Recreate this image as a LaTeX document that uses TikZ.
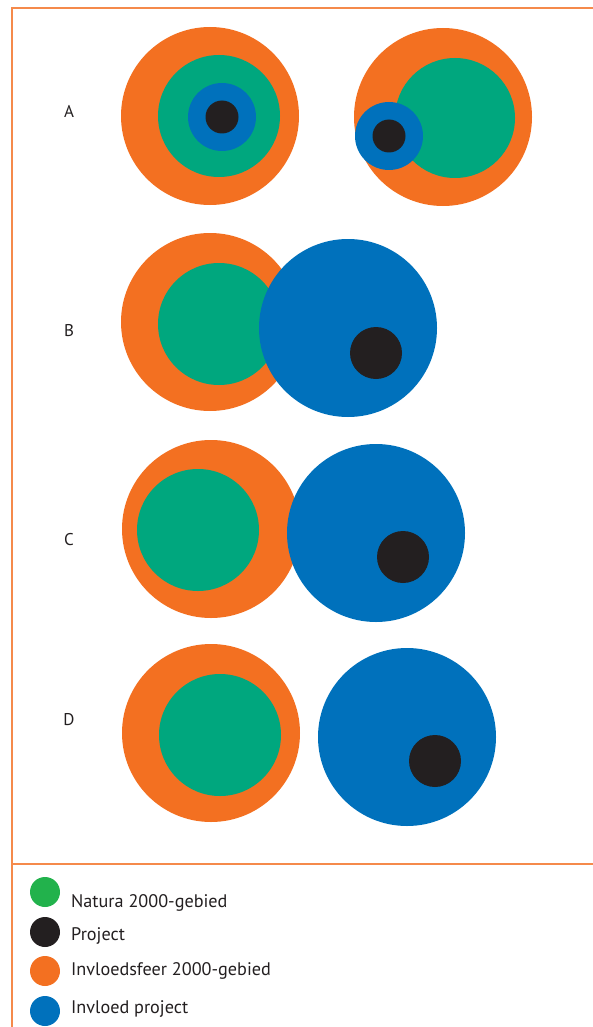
\documentclass[tikz,border=0pt]{standalone}
\usepackage{fontspec}
\setmainfont{PT Sans}
\usetikzlibrary{positioning}

\definecolor{sfeerorange}{HTML}{F37021}
\definecolor{framorange}{HTML}{F58A4B}
\definecolor{naturagreen}{HTML}{00A77E}
\definecolor{legendgreen}{HTML}{22B24C}
\definecolor{invloedblue}{HTML}{0071BC}
\definecolor{projectblack}{HTML}{231F20}

\begin{document}
\begin{tikzpicture}[x=1pt, y=-1pt,
    sfeer/.style={fill=sfeerorange},
    natura/.style={fill=naturagreen},
    invloed/.style={fill=invloedblue},
    project/.style={fill=projectblack},
    frame/.style={draw=framorange, line width=1.8pt},
    letter/.style={font=\fontsize{17}{20}\selectfont, text=projectblack},
    legdot/.style={circle, minimum width=30pt, minimum height=29pt, inner sep=0pt},
    legtext/.style={font=\fontsize{18.2}{21}\selectfont, text=projectblack, anchor=base west, inner sep=0pt}
]
    \useasboundingbox (0,0) rectangle (593,1027);

    % frame
    \coordinate (tl) at (12,8);
    \coordinate (tr) at (593,8);
    \coordinate (bl) at (12,1027);
    \coordinate (ml) at (12,864);
    \coordinate (mr) at (593,864);
    \draw[frame] (tr) -- (tl) -- (bl);
    \draw[frame] (ml) -- (mr);

    % row A
    \node[letter] (la) at (69,111) {A};
    \fill[sfeer] (210,116) circle[radius=89pt];
    \fill[natura] (219,116) circle[radius=61pt];
    \fill[invloed] (222,117) circle[radius=34pt];
    \fill[project] (222,117) circle[radius=16.5pt];

    \fill[sfeer] (443,117) circle[radius=89pt];
    \fill[natura] (455,118) circle[radius=60pt];
    \fill[invloed] (389,136) circle[radius=34pt];
    \fill[project] (389,136) circle[radius=16.5pt];

    % row B
    \node[letter] (lb) at (69,331) {B};
    \fill[sfeer] (210,322) circle[radius=89pt];
    \fill[natura] (219,324) circle[radius=61pt];
    \fill[invloed] (348,328) circle[radius=89pt];
    \fill[project] (376,353) circle[radius=26pt];

    % row C
    \node[letter] (lc) at (69,540) {C};
    \fill[sfeer] (211,529) circle[radius=89pt];
    \fill[natura] (198,530) circle[radius=61pt];
    \fill[invloed] (376,533) circle[radius=89pt];
    \fill[project] (403,557) circle[radius=26pt];

    % row D
    \node[letter] (ld) at (69,720) {D};
    \fill[sfeer] (211,733) circle[radius=89pt];
    \fill[natura] (220,735) circle[radius=61pt];
    \fill[invloed] (407,737) circle[radius=89pt];
    \fill[project] (435,761) circle[radius=26pt];

    % legend
    \node[legdot, fill=legendgreen] (dotnat) at (45,892) {};
    \node[legdot, fill=projectblack] (dotproj) at (45,932) {};
    \node[legdot, fill=sfeerorange] (dotsfeer) at (45,971) {};
    \node[legdot, fill=invloedblue] (dotinv) at (45,1011) {};
    \node[legtext] (txtnat) at (71,907) {Natura 2000-gebied};
    \node[legtext] (txtproj) at (71,940) {Project};
    \node[legtext] (txtsfeer) at (71,975) {Invloedsfeer 2000-gebied};
    \node[legtext] (txtinv) at (71,1013) {Invloed project};
\end{tikzpicture}
\end{document}
